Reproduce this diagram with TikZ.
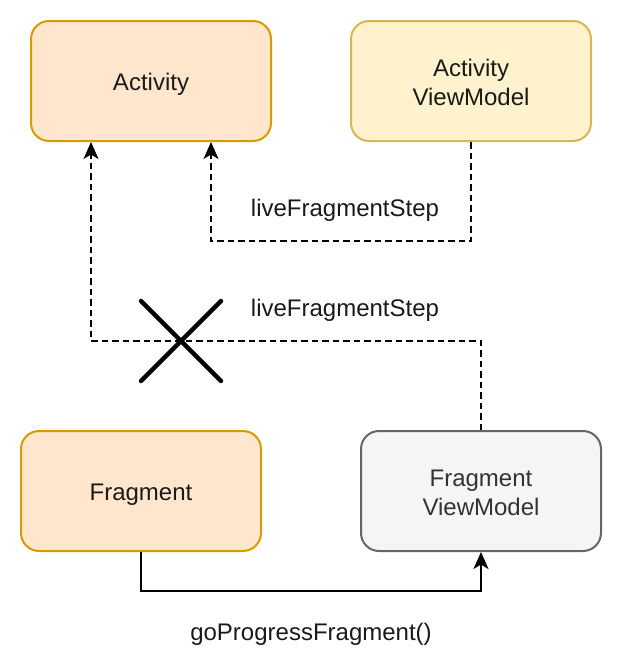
\documentclass[tikz,border=0pt]{standalone}
\usepackage{fontspec}
\setmainfont{Liberation Sans}
\usetikzlibrary{arrows.meta,calc}
\definecolor{orfill}{HTML}{FFE6CC}
\definecolor{orline}{HTML}{D79B00}
\definecolor{yefill}{HTML}{FFF2CC}
\definecolor{yeline}{HTML}{D6B656}
\definecolor{grfill}{HTML}{F5F5F5}
\definecolor{grline}{HTML}{666666}
\definecolor{grtext}{HTML}{333333}
\definecolor{txt}{HTML}{1A1A1A}
\newcommand{\lowstrut}[1]{\rule{0pt}{#1}}
\tikzset{
  box/.style={draw, line width=2pt, rounded corners=18pt, minimum width=240pt, minimum height=120pt, inner sep=0pt, align=center, font=\fontsize{24}{29}\selectfont, text=txt},
  orbox/.style={box, fill=orfill, draw=orline},
  yebox/.style={box, fill=yefill, draw=yeline},
  grbox/.style={box, fill=grfill, draw=grline, text=grtext},
  conn/.style={line width=2pt, -{Stealth[length=17pt, width=15pt, inset=4.5pt]}},
  dconn/.style={conn, dash pattern=on 6.5pt off 4pt},
  lbl/.style={font=\fontsize{24}{29}\selectfont, text=txt, inner sep=0pt},
  xmark/.style={line width=4.5pt, line cap=round}
}
\begin{document}
\begin{tikzpicture}[x=1pt, y=-1pt]
\useasboundingbox (0,0) rectangle (622,672);
\node[orbox] (act) at (151,81) {\lowstrut{23.6pt}Activity};
\node[yebox] (avm) at (471,81) {\lowstrut{20.6pt}Activity\\ViewModel};
\node[orbox] (frag) at (141,491) {\lowstrut{23.6pt}Fragment};
\node[grbox] (fvm) at (481,491) {\lowstrut{20.6pt}Fragment\\ViewModel};

\draw[dconn] (avm.south) -- (avm.south |- 0,241) -| ([xshift=60pt]act.south);
\draw[dconn] (fvm.north) -- (fvm.north |- 0,341) -| ([xshift=-60pt]act.south);
\draw[conn] (frag.south) -- (frag.south |- 0,591) -| (fvm.south);

\node[lbl] (l1) at (345,210) {liveFragmentStep};
\node[lbl] (l2) at (345,310) {liveFragmentStep};
\node[lbl] (l3) at (311,634) {goProgressFragment()};

\draw[xmark] (141,301) -- (221,381);
\draw[xmark] (141,381) -- (221,301);
\end{tikzpicture}
\end{document}
